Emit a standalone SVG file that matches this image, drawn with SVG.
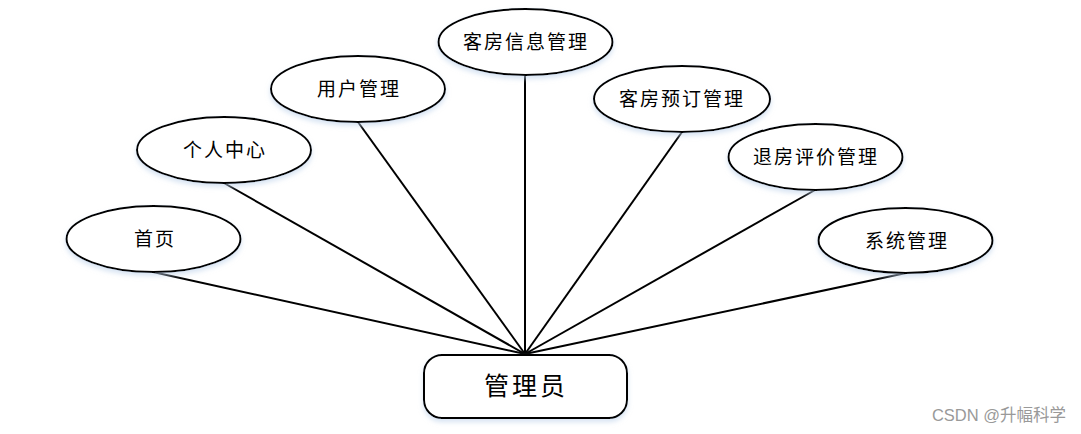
<svg xmlns="http://www.w3.org/2000/svg" width="1081" height="434" viewBox="0 0 1081 434">
<defs>
<filter id="sh" x="-10%" y="-20%" width="120%" height="150%">
<feDropShadow dx="0" dy="3" stdDeviation="2.5" flood-color="#bcd0ea" flood-opacity="0.6"/>
</filter>
<style>
.n{fill:#fff;stroke:#000;stroke-width:2;filter:url(#sh)}
.t{font-family:"Liberation Sans","Noto Sans CJK SC",sans-serif;font-size:19px;letter-spacing:2px;fill:#000;text-anchor:middle;dominant-baseline:central}
.c{stroke:#000;stroke-width:2;fill:none}
</style>
</defs>
<rect width="1081" height="434" fill="#fff"/>
<g id="connectors">
<line class="c" x1="153" y1="272" x2="525" y2="354"/>
<line class="c" x1="224" y1="183" x2="525" y2="354"/>
<line class="c" x1="358" y1="122" x2="525" y2="354"/>
<line class="c" x1="525" y1="75" x2="525" y2="354"/>
<line class="c" x1="682" y1="132" x2="525" y2="354"/>
<line class="c" x1="815" y1="190" x2="525" y2="354"/>
<line class="c" x1="906" y1="273" x2="525" y2="354"/>
</g>
<g id="n1"><ellipse class="n" cx="153.5" cy="239" rx="87" ry="33"/><text class="t" x="155" y="239">首页</text></g>
<g id="n2"><ellipse class="n" cx="224" cy="150" rx="87" ry="33"/><text class="t" x="225" y="150">个人中心</text></g>
<g id="n3"><ellipse class="n" cx="358" cy="89" rx="87" ry="33"/><text class="t" x="359" y="89">用户管理</text></g>
<g id="n4"><ellipse class="n" cx="525.5" cy="42" rx="87" ry="33"/><text class="t" x="526" y="42">客房信息管理</text></g>
<g id="n5"><ellipse class="n" cx="682" cy="99" rx="88" ry="33"/><text class="t" x="682" y="99">客房预订管理</text></g>
<g id="n6"><ellipse class="n" cx="815.5" cy="157" rx="87" ry="33"/><text class="t" x="816" y="157">退房评价管理</text></g>
<g id="n7"><ellipse class="n" cx="905.5" cy="240.5" rx="87" ry="32.5"/><text class="t" x="907" y="241">系统管理</text></g>
<g id="hub"><rect class="n" x="424" y="355" width="203" height="63" rx="18" ry="18"/><text class="t" x="526" y="386" style="font-size:25px;letter-spacing:3px">管理员</text></g>
<text x="1066" y="421" style="font-family:'Liberation Sans','Noto Sans CJK SC',sans-serif;font-size:16.5px;fill:#999;text-anchor:end">CSDN @升幅科学</text>
</svg>
